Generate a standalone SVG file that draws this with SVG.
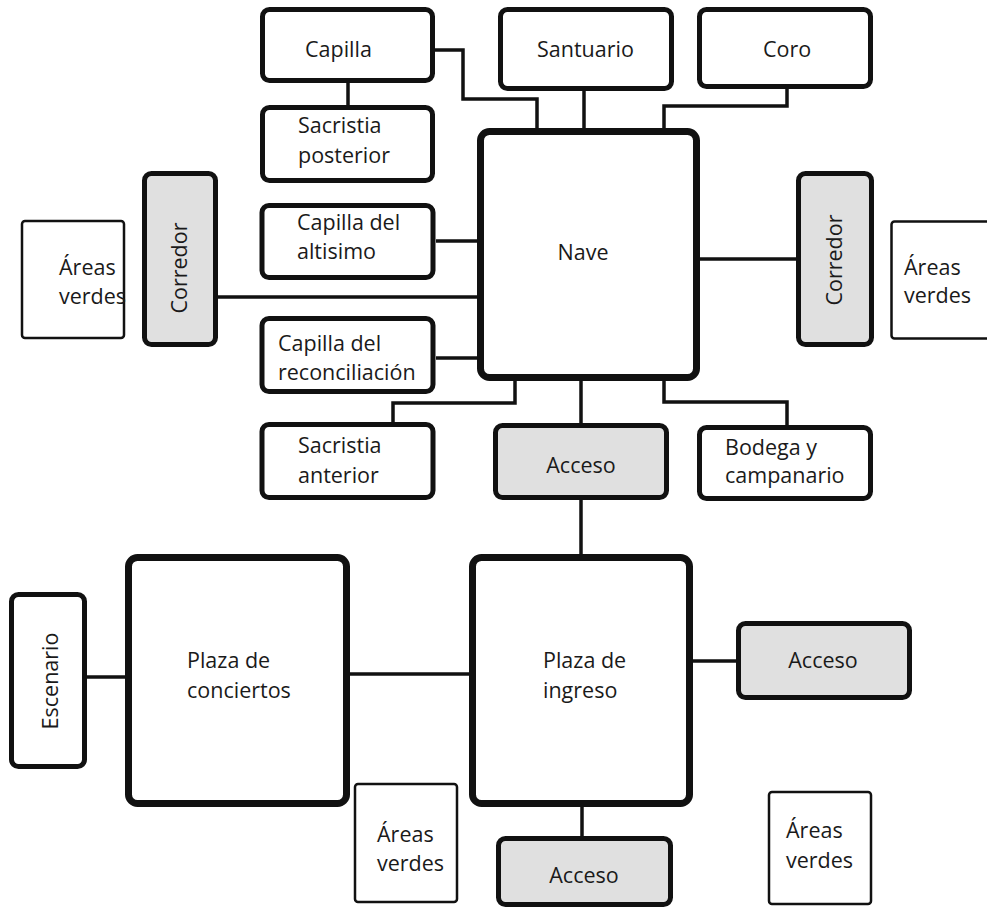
<svg xmlns="http://www.w3.org/2000/svg" width="987" height="914" viewBox="0 0 987 914">
<style>
  .box { fill: #ffffff; stroke: #111111; stroke-width: 5; }
  .big { fill: #ffffff; stroke: #111111; stroke-width: 7; }
  .gray { fill: #e0e0e0; stroke: #111111; stroke-width: 5; }
  .thin { fill: #ffffff; stroke: #111111; stroke-width: 2.5; }
  .conn { fill: none; stroke: #111111; stroke-width: 3.5; }
  text { font-family: "Open Sans", "Liberation Sans", sans-serif; font-size: 21.5px; fill: #1a1a1a; }
  .mid { text-anchor: middle; }
</style>
<rect width="987" height="914" fill="#ffffff"/>
<g id="connectors">
  <path class="conn" d="M348,83 V105"/>
  <path class="conn" d="M435,50 H463 V99 H537 V128"/>
  <path class="conn" d="M584,91 V128"/>
  <path class="conn" d="M787,88 V106 H664 V128"/>
  <path class="conn" d="M436,241 H477"/>
  <path class="conn" d="M218,297 H477"/>
  <path class="conn" d="M436,358 H477"/>
  <path class="conn" d="M700,259 H796"/>
  <path class="conn" d="M515,381 V403 H393 V422"/>
  <path class="conn" d="M581,381 V425"/>
  <path class="conn" d="M664,381 V402 H787 V425"/>
  <path class="conn" d="M581,500 V554"/>
  <path class="conn" d="M87,677 H125"/>
  <path class="conn" d="M350,674 H469"/>
  <path class="conn" d="M693,661 H736"/>
  <path class="conn" d="M582,807 V836"/>
</g>
<g id="capilla"><rect class="box" x="262.5" y="9.5" width="170" height="71" rx="7"/><text x="305" y="57">Capilla</text></g>
<g id="santuario"><rect class="box" x="500.5" y="9.5" width="171" height="79" rx="7"/><text x="537" y="57">Santuario</text></g>
<g id="coro"><rect class="box" x="699.5" y="9.5" width="171" height="77" rx="7"/><text x="763" y="57">Coro</text></g>
<g id="sacristia-posterior"><rect class="box" x="262.5" y="107.5" width="170" height="73" rx="7"/><text x="298" y="133">Sacristia</text><text x="298" y="163">posterior</text></g>
<g id="capilla-altisimo"><rect class="box" x="262" y="205.5" width="171" height="72" rx="7"/><text x="297" y="230">Capilla del</text><text x="297" y="259">altisimo</text></g>
<g id="capilla-reconciliacion"><rect class="box" x="262" y="318.5" width="171" height="73" rx="7"/><text x="278" y="351">Capilla del</text><text x="278" y="380">reconciliación</text></g>
<g id="sacristia-anterior"><rect class="box" x="262" y="424.5" width="171" height="73" rx="7"/><text x="298" y="453">Sacristia</text><text x="298" y="483">anterior</text></g>
<g id="acceso-nave"><rect class="gray" x="495.5" y="425.5" width="171" height="72" rx="7"/><text class="mid" x="581" y="473">Acceso</text></g>
<g id="bodega"><rect class="box" x="699.5" y="427.5" width="171" height="71" rx="7"/><text x="725" y="455">Bodega y</text><text x="725" y="483">campanario</text></g>
<g id="nave"><rect class="big" x="480.5" y="131.5" width="216" height="246" rx="9"/><text class="mid" x="583" y="260">Nave</text></g>
<g id="corredor-izq"><rect class="gray" x="144.5" y="173.5" width="71" height="171" rx="7"/><text class="mid" transform="translate(187,268) rotate(-90)">Corredor</text></g>
<g id="corredor-der"><rect class="gray" x="798.5" y="173.5" width="73" height="171" rx="7"/><text class="mid" transform="translate(842,260) rotate(-90)">Corredor</text></g>
<g id="areas-verdes-izq"><rect class="thin" x="22" y="221" width="102" height="117" rx="3"/><text x="59" y="275">Áreas</text><text x="59" y="304">verdes</text></g>
<g id="areas-verdes-der"><rect class="thin" x="891.5" y="221.5" width="100" height="117" rx="3"/><text x="904" y="275">Áreas</text><text x="904" y="303">verdes</text></g>
<g id="escenario"><rect class="box" x="11.5" y="594.5" width="73" height="172" rx="7"/><text class="mid" transform="translate(58,681) rotate(-90)">Escenario</text></g>
<g id="plaza-conciertos"><rect class="big" x="128.5" y="557.5" width="218" height="246" rx="9"/><text x="187" y="668">Plaza de</text><text x="187" y="698">conciertos</text></g>
<g id="plaza-ingreso"><rect class="big" x="472.5" y="557.5" width="217" height="246" rx="9"/><text x="543" y="668">Plaza de</text><text x="543" y="698">ingreso</text></g>
<g id="acceso-der"><rect class="gray" x="738.5" y="623.5" width="171" height="74" rx="7"/><text class="mid" x="823" y="668">Acceso</text></g>
<g id="acceso-inf"><rect class="gray" x="498.5" y="838.5" width="172" height="66" rx="7"/><text class="mid" x="584" y="883">Acceso</text></g>
<g id="areas-verdes-inf-izq"><rect class="thin" x="355" y="784" width="102" height="118" rx="3"/><text x="377" y="842">Áreas</text><text x="377" y="871">verdes</text></g>
<g id="areas-verdes-inf-der"><rect class="thin" x="769" y="792" width="102" height="112" rx="3"/><text x="786" y="838">Áreas</text><text x="786" y="868">verdes</text></g>
</svg>
